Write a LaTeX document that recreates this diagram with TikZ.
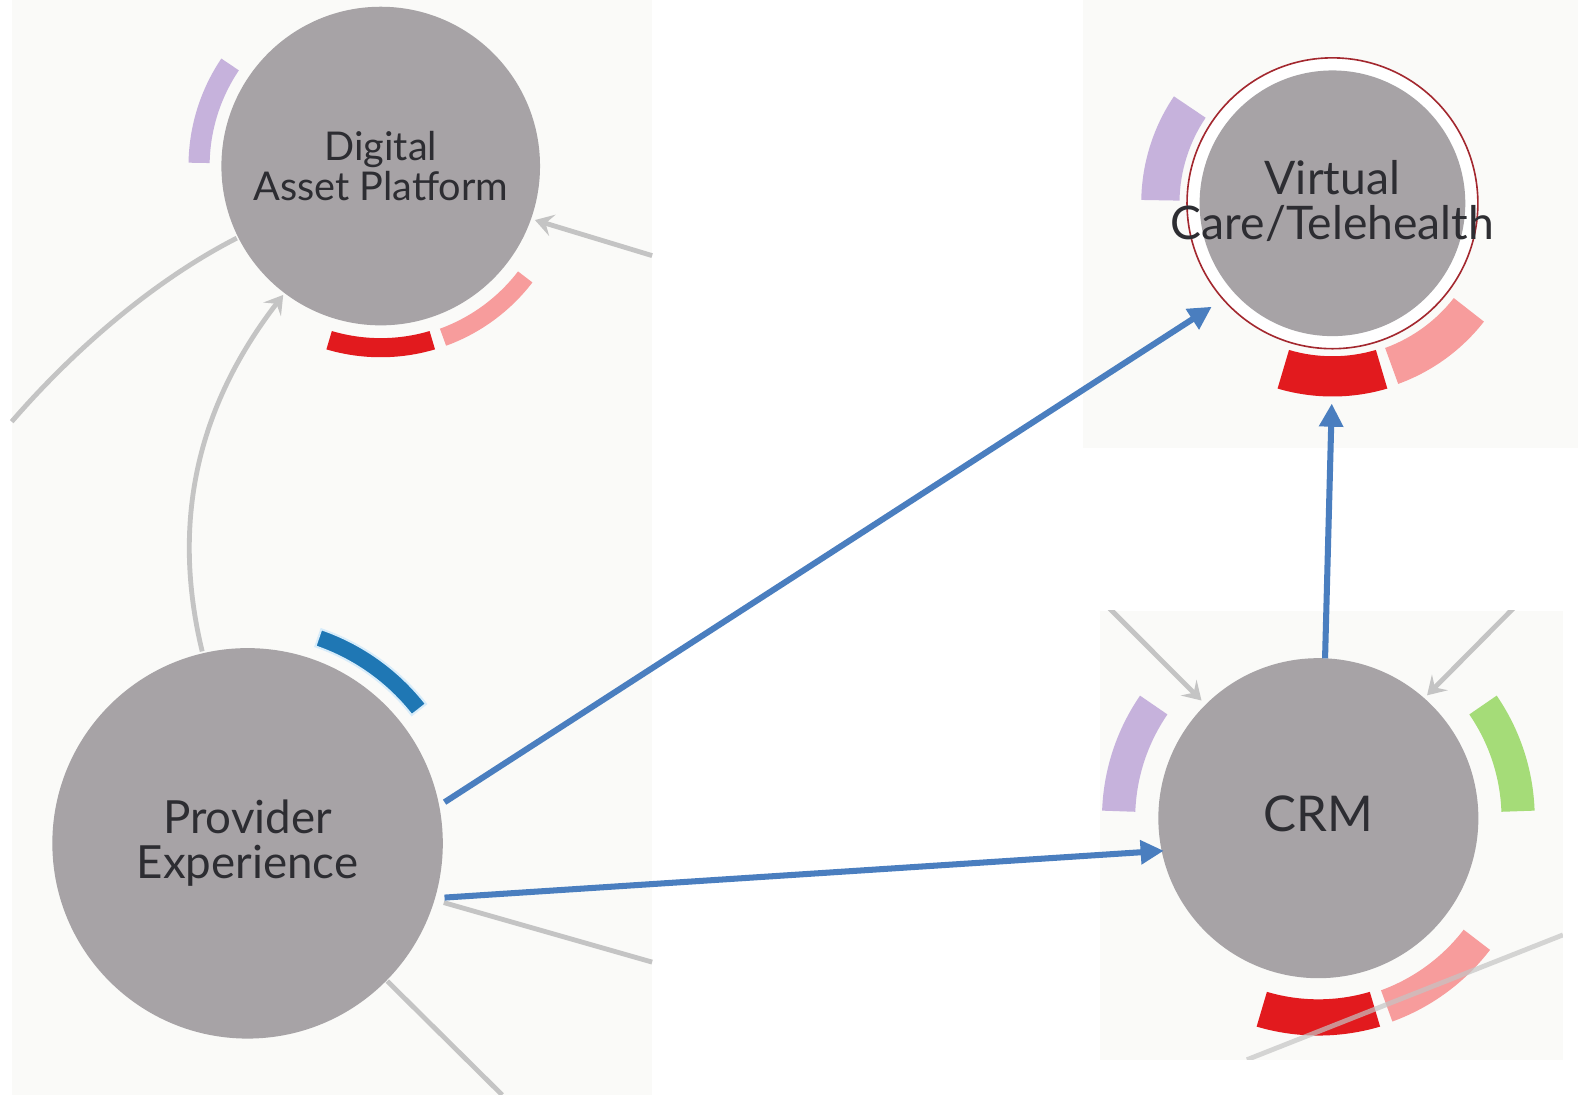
\documentclass[tikz,border=0pt]{standalone}
\usepackage{fontspec}
\setmainfont{Lato}
\usetikzlibrary{calc,arrows.meta}
\definecolor{panelbg}{RGB}{250,250,248}
\definecolor{bubblegray}{RGB}{167,163,166}
\definecolor{txtgray}{RGB}{45,45,50}
\definecolor{linkgray}{RGB}{196,196,196}
\definecolor{lav}{RGB}{198,178,220}
\definecolor{segred}{RGB}{226,26,30}
\definecolor{segpink}{RGB}{247,156,156}
\definecolor{seggreen}{RGB}{165,220,120}
\definecolor{segblue}{RGB}{31,119,180}
\definecolor{halo}{RGB}{215,236,250}
\definecolor{flowblue}{RGB}{74,126,191}
\definecolor{ringred}{RGB}{163,40,47}
\newcommand\ringseg[6]{%
  \fill[#6] ($(#1)+(#4:#3)$) arc[start angle=#4, end angle=#5, radius=#3]
    -- ($(#1)+(#5:#2)$) arc[start angle=#5, end angle=#4, radius=#2] -- cycle;}
\tikzset{
  bubble/.style={circle, fill=bubblegray, inner sep=0pt, outer sep=0pt},
  lbl/.style={text=txtgray, align=center, inner sep=0pt},
  link/.style={draw=linkgray, line width=2.4pt},
  linkarrow/.style={link, -{Stealth[length=9pt,width=11pt,inset=3.5pt]}},
  flow/.style={draw=flowblue, line width=3pt, -{Triangle[length=11.5pt,width=11.5pt]}},
}
\begin{document}
\begin{tikzpicture}[x=0.5pt,y=0.5pt]
\useasboundingbox (0,0) rectangle (1568,1088);
\fill[white] (0,0) rectangle (1568,1088);
% screenshot panels
\fill[panelbg] (11.6,0) rectangle (648,1088);
\fill[panelbg] (1076,643) rectangle (1568,1088);
\fill[panelbg] (1093,35) rectangle (1553,481);

% bubbles
\node[bubble, minimum size=158.3pt] (dap) at (378.3,923) {};
\node[bubble, minimum size=194pt] (pe) at (246,250) {};
\node[circle, draw=ringred, fill=white, line width=0.8pt, inner sep=0pt, minimum size=144.5pt] (vctring) at (1324,886) {};
\node[bubble, minimum size=132pt] (vct) at (1324,886) {};
\node[bubble, minimum size=159pt] (crm) at (1310,275) {};

% segment arcs
\ringseg{dap}{170}{191}{146}{179}{lav}
\ringseg{dap}{171}{190}{-106.5}{-73.5}{segred}
\ringseg{dap}{172}{190}{-70}{-37.5}{segpink}
\ringseg{vct}{152}{190}{146}{179}{lav}
\ringseg{vct}{152}{192}{-106.5}{-73.5}{segred}
\ringseg{vct}{153}{191}{-70}{-38}{segpink}
\ringseg{crm}{182}{215}{145.5}{178}{lav}
\ringseg{crm}{182}{215}{2}{34.5}{seggreen}
\ringseg{crm}{180}{216}{-106.5}{-73.5}{segred}
\ringseg{crm}{182}{215}{-70}{-37.5}{segpink}
\ringseg{pe}{207}{225}{38}{71}{segblue, draw=halo, line width=1pt}

% gray links, left panel
\coordinate (g1s) at (11.6,669);
\draw[link] (g1s) .. controls (80,748) and (160,813) .. ($(dap)+(-153.4:160)$);
\draw[linkarrow] ($(pe)+(103.3:196)$) .. controls (170,568) and (195,683) .. ($(dap)+(-127.1:160.6)$);
\coordinate (g3s) at (648,834);
\draw[linkarrow] (g3s) -- ($(dap)+(-19.3:162.4)$);
\coordinate (g4e) at (648,132);
\draw[link] ($(pe)+(-16.8:203.7)$) -- (g4e);
\coordinate (g5e) at (499,0);
\draw[link] ($(pe)+(-44.6:195)$) -- (g5e);

% gray links, CRM panel
\begin{scope}
  \clip (1093,35) rectangle (1553,481);
  \coordinate (g6s) at (1080,506);
  \draw[linkarrow] (g6s) -- ($(crm)+(134.8:164.8)$);
  \coordinate (g7s) at (1520,500);
  \draw[linkarrow] (g7s) -- ($(crm)+(48.5:163)$);
  \coordinate (g8s) at (1239,35);
  \coordinate (g8e) at (1553,159);
  \draw[link, draw opacity=0.7] (g8s) -- (g8e);
\end{scope}

% labels
\node[lbl, font=\fontsize{19.7}{19.5}\selectfont] (daplbl) at ($(dap)+(0,0)$) {Digital\\Asset Platform};
\node[lbl, font=\fontsize{22.7}{22.5}\selectfont] (pelbl) at ($(pe)+(0,0)$) {Provider\\Experience};
\node[lbl, font=\fontsize{23}{22.5}\selectfont] (vctlbl) at ($(vct)+(0,2)$) {Virtual\\Care/Telehealth};
\node[lbl, font=\fontsize{24.5}{24}\selectfont] (crmlbl) at ($(crm)+(0,4)$) {CRM};

% blue flows
\draw[flow] ($(pe)+(11.8:200)$) -- ($(vct)+(-139.4:158)$);
\draw[flow] ($(pe)+(-15.4:203)$) -- ($(crm)+(-168.1:157)$);
\draw[flow] ($(crm)+(87.6:159)$) -- ($(vct)+(-90.2:199)$);
\end{tikzpicture}
\end{document}
